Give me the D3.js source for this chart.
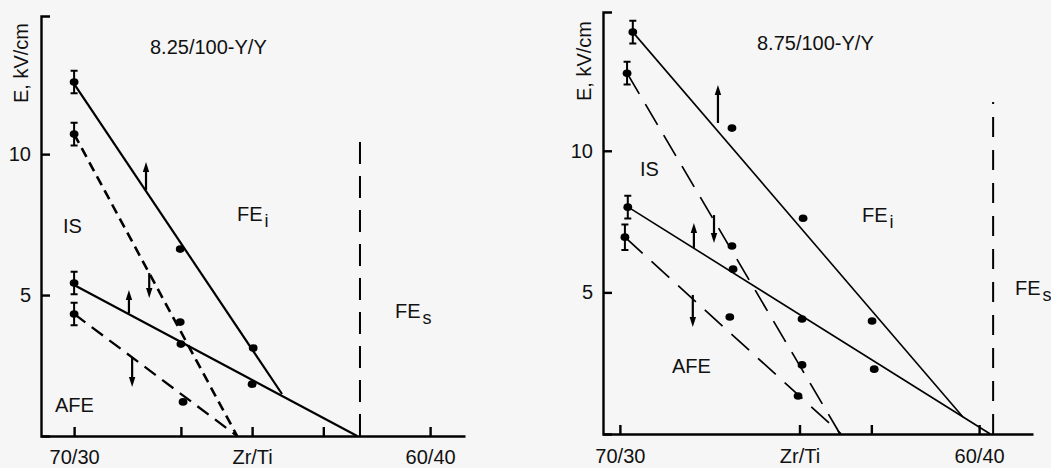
<!DOCTYPE html>
<html>
<head>
<meta charset="utf-8">
<script src="https://cdn.jsdelivr.net/npm/d3@7/dist/d3.min.js"></script>
<style>
    body { margin: 0; background: #f6f6f6; }
    svg { display: block; font-family: "Liberation Sans", Arial, sans-serif; }
</style>
</head>
<body>
<div id="chart"></div>
<script>
// x = Ti part of Zr/Ti (70/30 -> 30), y = E in kV/cm
var xTicksLeft = [30, 33, 35, 37, 40];
var xTicksRight = [30, 35, 37, 40];
var xTickLabels = { 30: '70/30', 35: 'Zr/Ti', 40: '60/40' };
var yTicks = [5, 10];

// 8.25/100-Y/Y
var leftSolidTopLine = [[30, 12.49], [35.84, 1.49]];
var leftSolidTopPts = [[30, 12.56], [32.98, 6.63], [35.03, 3.12]];
var leftDashTopLine = [[30, 10.71], [34.58, 0]];
var leftDashTopPts = [[30, 10.71], [32.98, 4.04]];
var leftSolidLowLine = [[30, 5.36], [37.95, 0]];
var leftSolidLowPts = [[30, 5.43], [33.0, 3.26], [35.0, 1.84]];
var leftDashLowLine = [[30, 4.33], [34.58, 0]];
var leftDashLowPts = [[30, 4.33], [33.06, 1.21]];
var leftErr = [0.4, 0.4, 0.4, 0.4];
var leftArrows = [[32.02, 8.73, 9.72], [32.11, 5.78, 4.9], [31.54, 4.36, 5.18], [31.63, 2.8, 1.74]];
var leftBorder = [[38.03, 0], [38.03, 10.75]];

// 8.75/100-Y/Y
var rightSolidTopLine = [[30.36, 14.19], [39.55, 0.6]];
var rightSolidTopPts = [[30.36, 14.19], [33.12, 10.8], [35.1, 7.62], [37.02, 3.99]];
var rightDashTopLine = [[30.2, 12.74], [36.13, 0]];
var rightDashTopPts = [[30.2, 12.74], [33.12, 6.64], [35.07, 2.44]];
var rightSolidLowLine = [[30.22, 8.02], [40.31, 0]];
var rightSolidLowPts = [[30.22, 8.01], [33.15, 5.82], [35.07, 4.06], [37.08, 2.29]];
var rightDashLowLine = [[30.14, 6.95], [36.16, 0]];
var rightDashLowPts = [[30.14, 6.95], [33.06, 4.13], [34.96, 1.34]];
var rightErr = [0.4, 0.4, 0.4, 0.45];
var rightArrows = [[32.73, 10.98, 12.32], [32.62, 7.73, 6.74], [32.06, 6.57, 7.45], [32.03, 4.91, 3.78]];
var rightBorder = [[40.39, 0], [40.39, 11.72]];

var svg = d3.select('#chart').append('svg')
    .attr('width', 1051)
    .attr('height', 468);

var panels = [
    {
        xDomain: [29.07, 40.98], xRange: [41, 465], yRange: [436, 16], xTicks: xTicksLeft, xPad: 14,
        lw: 2.2, borderDash: '22,12',
        series: [
            { line: leftSolidTopLine, pts: leftSolidTopPts, dash: null, w: 2.2, err: leftErr[0] },
            { line: leftDashTopLine, pts: leftDashTopPts, dash: '10,6', w: 2.6, err: leftErr[1] },
            { line: leftSolidLowLine, pts: leftSolidLowPts, dash: null, w: 2.2, err: leftErr[2] },
            { line: leftDashLowLine, pts: leftDashLowPts, dash: '14,8', w: 2.3, err: leftErr[3] }
        ],
        arrows: leftArrows, border: leftBorder,
        texts: [
            { t: '8.25/100-Y/Y', x: 150, y: 54 },
            { t: 'IS', x: 63, y: 233 },
            { t: 'FE', sub: 'i', x: 237, y: 221 },
            { t: 'FE', sub: 's', x: 395, y: 318 },
            { t: 'AFE', x: 55, y: 412 }
        ],
        yLabel: { x: 28, y: 63 }
    },
    {
        xDomain: [29.53, 41.5], xRange: [603, 1033], yRange: [434, 12], xTicks: xTicksRight, xPad: 15,
        lw: 1.6, borderDash: '20,13',
        series: [
            { line: rightSolidTopLine, pts: rightSolidTopPts, dash: null, w: 1.6, err: rightErr[0] },
            { line: rightDashTopLine, pts: rightDashTopPts, dash: '24,12', w: 1.7, err: rightErr[1] },
            { line: rightSolidLowLine, pts: rightSolidLowPts, dash: null, w: 1.6, err: rightErr[2] },
            { line: rightDashLowLine, pts: rightDashLowPts, dash: '24,12', w: 1.7, err: rightErr[3] }
        ],
        arrows: rightArrows, border: rightBorder,
        texts: [
            { t: '8.75/100-Y/Y', x: 757, y: 50 },
            { t: 'IS', x: 640, y: 176 },
            { t: 'FE', sub: 'i', x: 862, y: 222 },
            { t: 'FE', sub: 's', x: 1015, y: 295 },
            { t: 'AFE', x: 672, y: 373 }
        ],
        yLabel: { x: 591, y: 61 }
    }
];

panels.forEach(function (p) {
    var x = d3.scaleLinear().domain(p.xDomain).range(p.xRange);
    var y = d3.scaleLinear().domain([0, 14.9]).range(p.yRange);
    var g = svg.append('g');

    var line = d3.line()
        .x(function (d) { return x(d[0]); })
        .y(function (d) { return y(d[1]); });

    // axes
    var xAxis = d3.axisBottom(x)
        .tickValues(p.xTicks)
        .tickSizeInner(-9)
        .tickSizeOuter(0)
        .tickPadding(p.xPad)
        .tickFormat(function (d) { return xTickLabels[d] || ''; });
    var yAxis = d3.axisLeft(y)
        .tickValues(yTicks)
        .tickSizeInner(-9)
        .tickSizeOuter(-9)
        .tickPadding(10);

    var gx = g.append('g')
        .attr('transform', 'translate(0,' + p.yRange[0] + ')')
        .call(xAxis);
    var gy = g.append('g')
        .attr('transform', 'translate(' + p.xRange[0] + ',0)')
        .call(yAxis);

    [gx, gy].forEach(function (a) {
        a.attr('font-family', null).attr('font-size', 20);
        a.selectAll('path, line').attr('stroke', '#000').attr('stroke-width', 2.4);
        a.selectAll('text').attr('fill', '#111');
    });

    // phase border
    g.append('path')
        .attr('d', line(p.border))
        .attr('fill', 'none')
        .attr('stroke', '#000')
        .attr('stroke-width', 2)
        .attr('stroke-dasharray', p.borderDash);

    p.series.forEach(function (s) {
        g.append('path')
            .attr('d', line(s.line))
            .attr('fill', 'none')
            .attr('stroke', '#000')
            .attr('stroke-width', s.w)
            .attr('stroke-dasharray', s.dash);

        g.selectAll(null)
            .data(s.pts)
            .enter()
            .append('ellipse')
            .attr('cx', function (d) { return x(d[0]); })
            .attr('cy', function (d) { return y(d[1]); })
            .attr('rx', 4.4)
            .attr('ry', 3.8)
            .attr('fill', '#000');

        // error bar on the 70/30 point
        var e = s.pts[0];
        var ex = x(e[0]);
        g.append('path')
            .attr('d', 'M' + ex + ',' + y(e[1] - s.err) + 'V' + y(e[1] + s.err)
                + 'M' + (ex - 3.5) + ',' + y(e[1] - s.err) + 'h7'
                + 'M' + (ex - 3.5) + ',' + y(e[1] + s.err) + 'h7')
            .attr('fill', 'none')
            .attr('stroke', '#000')
            .attr('stroke-width', 2);
    });

    // arrows: [x, from E, to E]
    p.arrows.forEach(function (a) {
        var ax = x(a[0]), y0 = y(a[1]), y1 = y(a[2]);
        var dir = y1 < y0 ? 1 : -1;
        g.append('line')
            .attr('x1', ax).attr('x2', ax)
            .attr('y1', y0).attr('y2', y1 + dir * 7)
            .attr('stroke', '#000')
            .attr('stroke-width', 2.2);
        g.append('path')
            .attr('d', 'M' + ax + ',' + y1 + 'L' + (ax - 3.2) + ',' + (y1 + dir * 10)
                + 'L' + (ax + 3.2) + ',' + (y1 + dir * 10) + 'Z')
            .attr('fill', '#000');
    });

    // region labels
    p.texts.forEach(function (t) {
        var txt = g.append('text')
            .attr('x', t.x)
            .attr('y', t.y)
            .attr('font-size', 20)
            .attr('fill', '#111')
            .text(t.t);
        if (t.sub) {
            txt.append('tspan')
                .attr('dy', 6)
                .attr('dx', 2)
                .attr('font-size', 18)
                .text(t.sub);
        }
    });

    g.append('text')
        .attr('transform', 'translate(' + p.yLabel.x + ',' + p.yLabel.y + ') rotate(-90)')
        .attr('text-anchor', 'middle')
        .attr('font-size', 20)
        .attr('fill', '#111')
        .text('E, kV/cm');
});
</script>
</body>
</html>
